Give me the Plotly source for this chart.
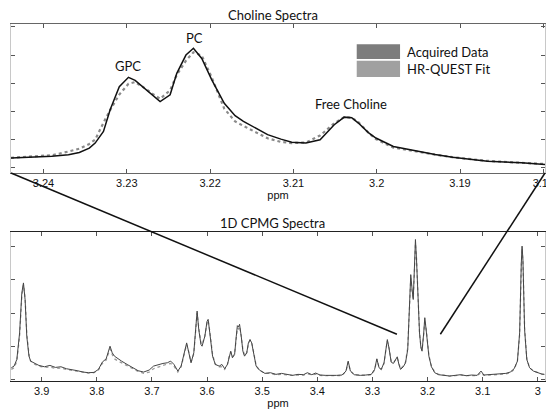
import plotly.graph_objects as go

# ---------------- data ----------------
top_ppm = [3.2439, 3.2410, 3.2390, 3.2370, 3.2357, 3.2345, 3.2338, 3.2328, 3.2320, 3.2309,
           3.2298, 3.2290, 3.2277, 3.2268, 3.2260, 3.2248, 3.2240, 3.2229, 3.2220, 3.2210,
           3.2198, 3.2183, 3.2170, 3.2160, 3.2145, 3.2131, 3.2115, 3.2102, 3.2085, 3.2068,
           3.2051, 3.2039, 3.2030, 3.2022, 3.2010, 3.2001, 3.1980, 3.1951, 3.1930, 3.1909,
           3.1867, 3.1826, 3.1798]
top_acquired = [0.35, 0.38, 0.41, 0.47, 0.55, 0.70, 0.88, 1.29, 2.06, 2.88,
                3.21, 3.10, 2.76, 2.55, 2.35, 2.59, 3.35, 4.00, 4.24, 3.88,
                3.12, 2.29, 1.85, 1.65, 1.40, 1.18, 1.02, 0.91, 0.88, 1.00,
                1.53, 1.80, 1.78, 1.59, 1.25, 1.06, 0.76, 0.59, 0.48, 0.38,
                0.24, 0.18, 0.12]
top_fit = [0.36, 0.40, 0.45, 0.58, 0.68, 0.85, 1.00, 1.60, 2.05, 2.60,
           2.98, 3.04, 2.80, 2.60, 2.45, 2.75, 3.30, 3.80, 4.10, 3.98,
           3.20, 2.10, 1.65, 1.49, 1.25, 1.05, 0.92, 0.88, 0.90, 1.15,
           1.58, 1.80, 1.78, 1.62, 1.25, 1.02, 0.72, 0.57, 0.47, 0.38,
           0.25, 0.18, 0.14]

bot_ppm = [3.955, 3.950, 3.945, 3.940, 3.936, 3.933, 3.930, 3.927, 3.923, 3.920,
           3.912, 3.905, 3.895, 3.885, 3.875, 3.865, 3.855, 3.845, 3.835, 3.825,
           3.815, 3.805, 3.797, 3.790, 3.783, 3.776, 3.772, 3.768, 3.762, 3.755,
           3.745, 3.735, 3.725, 3.715, 3.705, 3.697, 3.688, 3.680, 3.672, 3.666,
           3.660, 3.653, 3.647, 3.641, 3.637, 3.633, 3.629, 3.624, 3.621, 3.618,
           3.615, 3.611, 3.609, 3.604, 3.600, 3.598, 3.595, 3.590, 3.585, 3.578,
           3.573, 3.568, 3.563, 3.560, 3.557, 3.554, 3.550, 3.547, 3.545, 3.543,
           3.541, 3.538, 3.535, 3.532, 3.528, 3.525, 3.522, 3.519, 3.515, 3.511,
           3.505, 3.495, 3.485, 3.475, 3.465, 3.455, 3.445, 3.435, 3.425, 3.418,
           3.410, 3.403, 3.395, 3.385, 3.375, 3.365, 3.355, 3.348, 3.344, 3.340,
           3.333, 3.322, 3.312, 3.302, 3.296, 3.292, 3.288, 3.284, 3.279, 3.276,
           3.273, 3.270, 3.266, 3.262, 3.258, 3.255, 3.252, 3.249, 3.244, 3.240,
           3.236, 3.233, 3.2305, 3.228, 3.226, 3.224, 3.222, 3.220, 3.217, 3.2146,
           3.212, 3.210, 3.207, 3.205, 3.202, 3.1976, 3.193, 3.187, 3.180, 3.170,
           3.160, 3.150, 3.140, 3.130, 3.120, 3.110, 3.103, 3.098, 3.088, 3.078,
           3.068, 3.058, 3.050, 3.043, 3.037, 3.033, 3.030, 3.0286, 3.027, 3.024,
           3.020, 3.015, 3.008, 3.000, 2.993, 2.988]
bot_acquired = [0.35, 0.40, 0.60, 1.40, 2.60, 2.91, 2.40, 1.30, 0.70, 0.55,
                0.48, 0.42, 0.38, 0.42, 0.36, 0.38, 0.32, 0.30, 0.26, 0.22,
                0.20, 0.21, 0.30, 0.52, 0.62, 1.00, 0.80, 0.70, 0.62, 0.55,
                0.45, 0.35, 0.26, 0.22, 0.28, 0.40, 0.45, 0.48, 0.50, 0.55,
                0.45, 0.25, 0.40, 0.80, 1.10, 0.80, 0.50, 0.80, 1.60, 2.06,
                1.50, 1.05, 1.00, 1.30, 1.75, 1.81, 1.40, 0.70, 0.45, 0.40,
                0.45, 0.32, 0.45, 0.70, 0.85, 0.65, 0.75, 1.30, 1.62, 1.58,
                1.66, 1.30, 0.85, 0.70, 0.80, 1.10, 1.20, 1.10, 0.70, 0.40,
                0.28, 0.18, 0.20, 0.15, 0.18, 0.14, 0.12, 0.15, 0.14, 0.20,
                0.14, 0.19, 0.13, 0.12, 0.11, 0.12, 0.13, 0.25, 0.55, 0.25,
                0.14, 0.12, 0.13, 0.15, 0.30, 0.62, 0.35, 0.30, 0.50, 0.90,
                1.20, 0.95, 0.52, 0.48, 0.58, 0.68, 0.45, 0.30, 0.38, 0.50,
                0.90, 2.00, 3.16, 2.70, 2.41, 3.30, 4.22, 3.60, 2.20, 1.40,
                0.95, 0.85, 1.40, 1.86, 1.40, 0.70, 0.38, 0.20, 0.14, 0.12,
                0.10, 0.12, 0.14, 0.11, 0.13, 0.12, 0.25, 0.13, 0.14, 0.16,
                0.15, 0.18, 0.22, 0.32, 0.55, 1.40, 3.50, 4.02, 3.60, 1.50,
                0.60, 0.35, 0.25, 0.20, 0.16, 0.15]
bot_fit = [0.30, 0.35, 0.55, 1.30, 2.50, 2.85, 2.45, 1.40, 0.75, 0.55,
           0.45, 0.40, 0.36, 0.37, 0.33, 0.34, 0.30, 0.28, 0.25, 0.22,
           0.19, 0.20, 0.28, 0.48, 0.58, 0.92, 0.75, 0.62, 0.56, 0.50,
           0.40, 0.32, 0.24, 0.18, 0.22, 0.32, 0.38, 0.42, 0.46, 0.48,
           0.40, 0.22, 0.38, 0.78, 1.05, 0.82, 0.52, 0.78, 1.55, 2.00,
           1.55, 1.10, 1.05, 1.30, 1.70, 1.78, 1.45, 0.75, 0.45, 0.38,
           0.38, 0.30, 0.45, 0.70, 0.82, 0.68, 0.78, 1.25, 1.55, 1.52,
           1.60, 1.30, 0.90, 0.72, 0.80, 1.05, 1.18, 1.12, 0.75, 0.42,
           0.28, 0.18, 0.18, 0.14, 0.15, 0.13, 0.12, 0.13, 0.13, 0.17,
           0.13, 0.16, 0.12, 0.11, 0.10, 0.11, 0.12, 0.24, 0.52, 0.26,
           0.14, 0.12, 0.12, 0.14, 0.28, 0.60, 0.36, 0.30, 0.48, 0.85,
           1.15, 0.95, 0.55, 0.50, 0.58, 0.65, 0.48, 0.32, 0.40, 0.52,
           0.95, 2.00, 3.05, 2.65, 2.45, 3.20, 4.10, 3.65, 2.30, 1.40,
           0.98, 0.88, 1.35, 1.80, 1.45, 0.72, 0.40, 0.22, 0.15, 0.12,
           0.10, 0.11, 0.13, 0.11, 0.12, 0.11, 0.20, 0.12, 0.13, 0.14,
           0.13, 0.16, 0.20, 0.30, 0.55, 1.35, 3.40, 3.95, 3.55, 1.55,
           0.62, 0.35, 0.25, 0.20, 0.16, 0.15]

top_ticks = [3.24, 3.23, 3.22, 3.21, 3.20, 3.19, 3.18]
top_ticklabels = ["3.24", "3.23", "3.22", "3.21", "3.2", "3.19", "3.18"]
bot_ticks = [3.9, 3.8, 3.7, 3.6, 3.5, 3.4, 3.3, 3.2, 3.1, 3.0]
bot_ticklabels = ["3.9", "3.8", "3.7", "3.6", "3.5", "3.4", "3.3", "3.2", "3.1", "3"]

peak_labels = ["GPC", "PC", "Free Choline"]
peak_label_ppm = [3.2298, 3.2219, 3.2031]
peak_label_y = [3.61, 4.62, 2.26]

legend_names = ["Acquired Data", "HR-QUEST Fit"]

# zoom link: bottom-panel anchor points (ppm, intensity)
link_ppm = [3.2556, 3.1768]
link_y = [1.36, 1.36]

# ---------------- layout constants ----------------
X1_RANGE = [3.2439, 3.1798]
X2_RANGE = [3.9556, 2.987]
Y1_RANGE = [-0.18, 5.1]
Y2_RANGE = [-0.05, 4.45]
TOP_DOM = [0.5826, 1.0]
BOT_DOM = [0.0, 0.4177]

TITLE_FONT = dict(family="Lato, 'Open Sans', sans-serif", size=13, color="#111")
TICK_FONT = dict(family="'Liberation Sans', Arial, sans-serif", size=11, color="#111")

fig = go.Figure()

fig.add_trace(go.Scatter(x=top_ppm, y=top_fit, mode="lines", name=legend_names[1],
                         line=dict(color="#8a8a8a", width=2.2, dash="dot"),
                         xaxis="x", yaxis="y", showlegend=False))
fig.add_trace(go.Scatter(x=top_ppm, y=top_acquired, mode="lines", name=legend_names[0],
                         line=dict(color="#111111", width=1.5),
                         xaxis="x", yaxis="y", showlegend=False))

fig.add_trace(go.Scatter(x=bot_ppm, y=bot_fit, mode="lines", name=legend_names[1],
                         line=dict(color="#9a9a9a", width=1.3, dash="dot"),
                         xaxis="x2", yaxis="y2", showlegend=False))
fig.add_trace(go.Scatter(x=bot_ppm, y=bot_acquired, mode="lines", name=legend_names[0],
                         line=dict(color="#444444", width=1),
                         xaxis="x2", yaxis="y2", showlegend=False))

axis_common = dict(showgrid=False, zeroline=False, ticks="inside", ticklen=4,
                   tickcolor="#555", mirror="ticks", showline=True, automargin=False)

fig.update_layout(
    width=546, height=411,
    margin=dict(l=11, r=1, t=24, b=30),
    paper_bgcolor="white", plot_bgcolor="white",
    showlegend=False,
    xaxis=dict(domain=[0, 1], range=X1_RANGE, anchor="y",
               tickvals=top_ticks, ticktext=top_ticklabels, tickfont=TICK_FONT,
               ticklabeloverflow="allow",
               linecolor="#666", title=dict(text="ppm", font=TICK_FONT, standoff=2),
               **axis_common),
    yaxis=dict(domain=TOP_DOM, range=Y1_RANGE, anchor="x",
               tickvals=[0, 1, 2, 3, 4, 5], showticklabels=False,
               linecolor="#c8c8c8", **axis_common),
    xaxis2=dict(domain=[0, 1], range=X2_RANGE, anchor="y2",
                tickvals=bot_ticks, ticktext=bot_ticklabels, tickfont=TICK_FONT,
                ticklabeloverflow="allow",
                linecolor="#222", title=dict(text="ppm", font=TICK_FONT, standoff=2),
                **axis_common),
    yaxis2=dict(domain=BOT_DOM, range=Y2_RANGE, anchor="x2",
                tickvals=[0, 1, 2, 3, 4], showticklabels=False,
                linecolor="#c8c8c8", **axis_common),
)

annotations = []
# panel titles
annotations.append(dict(text="Choline Spectra", xref="paper", yref="paper",
                        x=0.49, y=1.0, yshift=9, showarrow=False, yanchor="middle",
                        font=TITLE_FONT))
annotations.append(dict(text="1D CPMG Spectra", xref="paper", yref="paper",
                        x=0.49, y=BOT_DOM[1], yshift=9, showarrow=False, yanchor="middle",
                        font=TITLE_FONT))
# peak labels
for t, px, py in zip(peak_labels, peak_label_ppm, peak_label_y):
    annotations.append(dict(text=t, x=px, y=py, xref="x", yref="y",
                            showarrow=False, font=TITLE_FONT))

# legend (custom boxes)
legend_box_x = [3.2024, 3.1972]
legend_box_y = [[3.86, 4.38], [3.22, 3.80]]
legend_box_color = ["#7d7d7d", "#a0a0a0"]
shapes = []
for name, (y0, y1), col in zip(legend_names, legend_box_y, legend_box_color):
    shapes.append(dict(type="rect", xref="x", yref="y", x0=legend_box_x[0], x1=legend_box_x[1],
                       y0=y0, y1=y1, fillcolor=col, line=dict(width=0)))
    annotations.append(dict(text=name, x=legend_box_x[1], y=(y0 + y1) / 2, xref="x", yref="y",
                            xanchor="left", xshift=5, showarrow=False, font=TITLE_FONT))

# zoom link lines from top-panel corners to bottom-panel region
def x2_to_paper(v):
    return (X2_RANGE[0] - v) / (X2_RANGE[0] - X2_RANGE[1])

def y2_to_paper(v):
    return BOT_DOM[0] + (BOT_DOM[1] - BOT_DOM[0]) * (v - Y2_RANGE[0]) / (Y2_RANGE[1] - Y2_RANGE[0])

for corner_x, lp, ly in zip([0.0, 1.0], link_ppm, link_y):
    shapes.append(dict(type="line", xref="paper", yref="paper",
                       x0=corner_x, y0=TOP_DOM[0], x1=x2_to_paper(lp), y1=y2_to_paper(ly),
                       line=dict(color="#111", width=1.5)))

fig.update_layout(annotations=annotations, shapes=shapes)

fig.write_html("out.html")
